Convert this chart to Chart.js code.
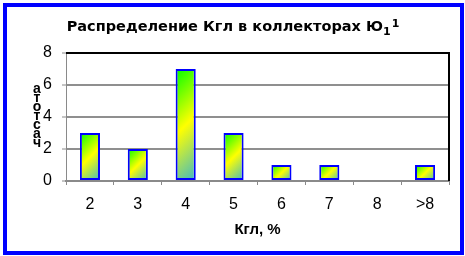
<!DOCTYPE html>
<html>
<head>
<meta charset="utf-8">
<script src="https://cdn.jsdelivr.net/npm/chart.js@4.4.1/dist/chart.umd.min.js"></script>
<style>
  html, body { margin: 0; padding: 0; background: #fff; }
  #wrap { position: relative; width: 465px; height: 256px; }
  #frame {
    position: absolute; left: 3px; top: 3px; width: 461px; height: 252px;
    box-sizing: border-box; border: 4px solid #0000ff; pointer-events: none;
  }
</style>
</head>
<body>
<div id="wrap">
  <canvas id="chart" width="465" height="256"></canvas>
  <div id="frame"></div>
</div>
<script>
const categories = ['2', '3', '4', '5', '6', '7', '8', '>8'];
const counts = [3, 2, 7, 3, 1, 1, 0, 1];
const yMax = 8;
const yStep = 2;
const titleMain = 'Распределение Кгл в коллекторах Ю';
const titleSub = '1';
const titleSup = '1';
const yTitle = 'частота';
const xTitle = 'Кгл, %';

const FONT = "'Liberation Sans', Arial, sans-serif";
const TFONT = "'DejaVu Sans', Verdana, sans-serif";

// excel-like 45deg fill: green top-left, yellow across, teal bottom-right
function barFill(ctx) {
  const chart = ctx.chart;
  if (ctx.type !== 'data' || !chart.chartArea) return '#ffff00';
  const xs = chart.scales.x, ys = chart.scales.y;
  const w = (xs.width / categories.length) * 0.42;
  const left = xs.getPixelForValue(ctx.dataIndex) - w / 2;
  const top = ys.getPixelForValue(ctx.raw);
  const h = Math.max(ys.getPixelForValue(0) - top, 1);
  const d = (w + h) / 2;
  const g = chart.ctx.createLinearGradient(left, top, left + d, top + d);
  g.addColorStop(0, '#00ff00');
  g.addColorStop(0.5, '#ffff00');
  g.addColorStop(1, '#3cb8c8');
  return g;
}

const decor = {
  id: 'decor',
  afterDatasetsDraw(chart) {
    const { ctx, chartArea: a } = chart;
    ctx.save();
    // plot area frame, top and right
    ctx.strokeStyle = '#000';
    ctx.lineWidth = 2;
    ctx.beginPath();
    ctx.moveTo(a.left, a.top);
    ctx.lineTo(a.right, a.top);
    ctx.lineTo(a.right, a.bottom);
    ctx.stroke();
    ctx.restore();
  },
  afterDraw(chart) {
    const { ctx } = chart;
    ctx.save();
    ctx.fillStyle = '#000';
    ctx.textBaseline = 'alphabetic';
    // title with sub/superscript
    ctx.font = 'bold 14.5px ' + TFONT;
    const mw = ctx.measureText(titleMain).width;
    ctx.font = 'bold 11px ' + TFONT;
    const sw = ctx.measureText(titleSub).width;
    const pw = ctx.measureText(titleSup).width;
    let x = 233 - (mw + sw + pw + 1) / 2;
    ctx.textAlign = 'left';
    ctx.font = 'bold 14.5px ' + TFONT;
    ctx.fillText(titleMain, x, 31);
    x += mw;
    ctx.font = 'bold 11px ' + TFONT;
    ctx.fillText(titleSub, x, 35);
    x += sw + 1;
    ctx.fillText(titleSup, x, 27);
    // y title: letters stacked bottom to top
    ctx.font = 'bold 14px ' + FONT;
    ctx.textAlign = 'center';
    ctx.textBaseline = 'middle';
    Array.from(yTitle).forEach((ch, i) => {
      ctx.fillText(ch, 37, 143 - i * 8.9);
    });
    ctx.restore();
  }
};

new Chart(document.getElementById('chart'), {
  type: 'bar',
  data: {
    labels: categories,
    datasets: [{
      data: counts,
      backgroundColor: barFill,
      borderColor: '#0000ff',
      borderWidth: 2,
      borderSkipped: false,
      barPercentage: 0.42,
      categoryPercentage: 1
    }]
  },
  options: {
    responsive: false,
    animation: false,
    devicePixelRatio: 1,
    layout: { padding: { top: 53, right: 16, left: 0, bottom: 0 } },
    plugins: {
      legend: { display: false },
      title: { display: false },
      tooltip: { enabled: false }
    },
    scales: {
      x: {
        offset: true,
        grid: {
          offset: true,
          drawOnChartArea: false,
          drawTicks: true,
          tickLength: 4,
          color: '#8a8a8a',
          lineWidth: 1
        },
        border: { color: '#8a8a8a', width: 2 },
        ticks: {
          color: '#000',
          font: { family: FONT, size: 16 },
          padding: 10,
          maxRotation: 0,
          autoSkip: false
        },
        title: {
          display: true,
          text: xTitle,
          color: '#000',
          font: { family: FONT, size: 15, weight: 'bold' },
          padding: { top: 0, bottom: 17 }
        },
        afterFit(scale) { scale.height = 75; }
      },
      y: {
        min: 0,
        max: yMax,
        ticks: {
          stepSize: yStep,
          color: '#000',
          font: { family: FONT, size: 16 },
          padding: 10
        },
        grid: {
          color: '#8f8f8f',
          lineWidth: 2,
          tickLength: 4,
          tickColor: '#8a8a8a',
          tickWidth: 1
        },
        border: { color: '#8a8a8a', width: 1 },
        afterFit(scale) { scale.width = 66; }
      }
    }
  },
  plugins: [decor]
});
</script>
</body>
</html>
